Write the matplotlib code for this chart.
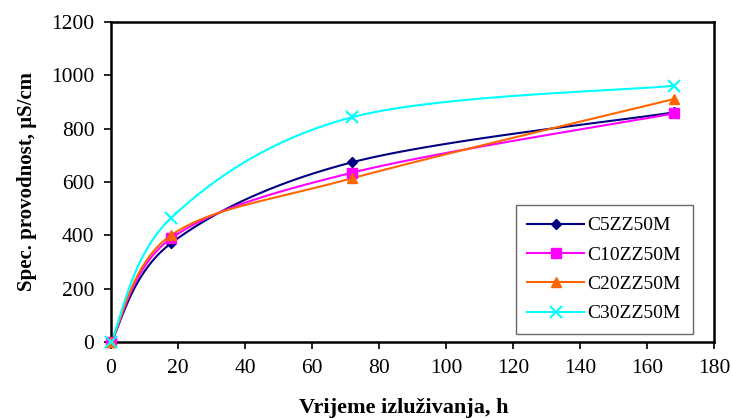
import numpy as np
import matplotlib
matplotlib.use("Agg")
import matplotlib.pyplot as plt

plt.rcParams['font.family'] = ['Liberation Serif', 'DejaVu Serif']

# data
hours = [0, 18, 72, 168]
c5 = [0, 371, 674, 861]
c10 = [0, 389, 635, 857]
c20 = [0, 401, 614, 911]
c30 = [0, 466, 843, 961]
labels = ['C5ZZ50M', 'C10ZZ50M', 'C20ZZ50M', 'C30ZZ50M']
colors = ['#000080', '#FF00FF', '#FF6600', '#00FFFF']
markers = ['D', 's', '^', 'x']
msizes = [5, 7, 7, 8]

# x/y scale so the smoothing is done in (roughly) screen space, like Excel
SX = 603 / 180.0
SY = 320 / 1200.0


def smooth(x, y, n=40):
    # Catmull-Rom style bezier, tension 1/6
    px = np.asarray(x, float) * SX
    py = np.asarray(y, float) * SY
    P = np.column_stack([px, py])
    P = np.vstack([P[0], P, P[-1]])
    out = []
    t = np.linspace(0, 1, n)[:, None]
    for i in range(1, len(P) - 2):
        p0, p1 = P[i], P[i + 1]
        c1 = p0 + (P[i + 1] - P[i - 1]) / 6.0
        c2 = p1 - (P[i + 2] - P[i]) / 6.0
        seg = ((1 - t) ** 3) * p0 + 3 * ((1 - t) ** 2) * t * c1 + 3 * (1 - t) * t ** 2 * c2 + t ** 3 * p1
        out.append(seg)
    out = np.vstack(out)
    return out[:, 0] / SX, out[:, 1] / SY


fig = plt.figure(figsize=(7.33, 4.19), dpi=100)
ax = fig.add_axes([0.1514, 0.1838, 0.8226, 0.7637])

for ys, lab, col, mk, ms in zip([c5, c10, c20, c30], labels, colors, markers, msizes):
    sx, sy = smooth(hours, ys)
    ax.plot(sx, sy, color=col, lw=1.5)
    ax.plot(hours, ys, linestyle='none', marker=mk, color=col, markersize=ms,
            markeredgewidth=1.5 if mk == 'x' else 1, clip_on=False, zorder=3)
    ax.plot([], [], color=col, lw=1.5, marker=mk, markersize=ms,
            markeredgewidth=1.5 if mk == 'x' else 1, label=lab)

ax.set_xlim(0, 180)
ax.set_ylim(0, 1200)
ax.set_xticks(range(0, 181, 20))
ax.set_yticks(range(0, 1201, 200))
ax.tick_params(direction='out', length=5, width=1.2, labelsize=15.5, pad=7,
               top=False, right=False)
for s in ax.spines.values():
    s.set_linewidth(1.8)

ax.set_xlabel('Vrijeme izluživanja, h', fontsize=16, fontweight='bold')
ax.xaxis.set_label_coords(0.486, -0.175)
ax.set_ylabel('Spec. provodnost, µS/cm', fontsize=15, fontweight='bold', labelpad=10)

leg = ax.legend(loc='lower right', bbox_to_anchor=(0.965, 0.025), fontsize=14,
                fancybox=False, edgecolor='#444444', handlelength=2.9,
                labelspacing=0.6, handletextpad=0.2, borderpad=0.6,
                borderaxespad=0)
leg.get_frame().set_linewidth(1.0)

fig.savefig('out.png', dpi=100)
